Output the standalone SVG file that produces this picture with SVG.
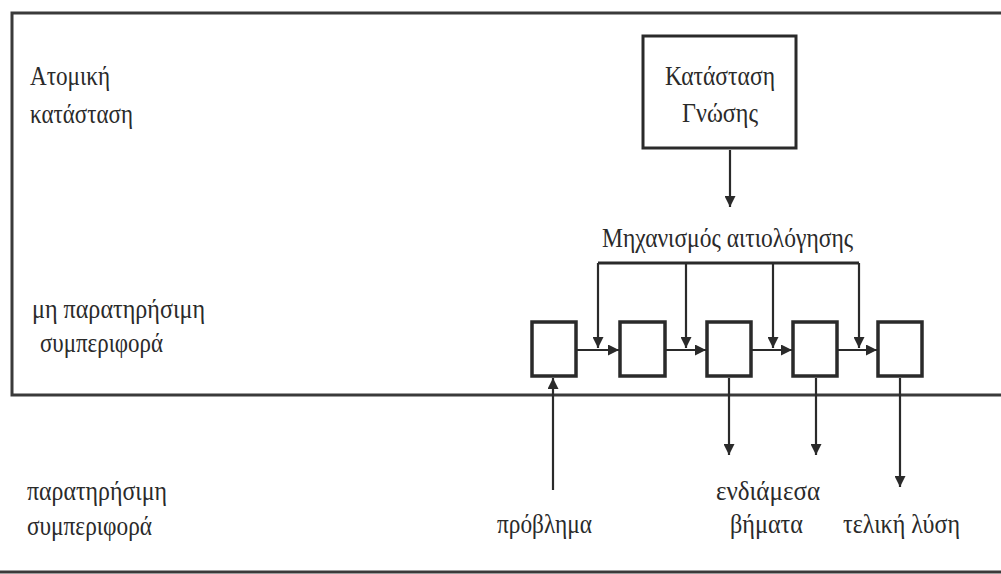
<svg xmlns="http://www.w3.org/2000/svg" width="1001" height="574" viewBox="0 0 1001 574">
<defs>
<marker id="ah" viewBox="0 0 10 10" refX="10" refY="5" markerWidth="11" markerHeight="11" markerUnits="userSpaceOnUse" orient="auto">
<path d="M0,0 L10,5 L0,10 Z" fill="#2a2a2a"/>
</marker>
</defs>
<style>
.t{font-family:"Liberation Serif","DejaVu Serif",serif;font-size:27px;fill:#2a2a2a}
.m{text-anchor:middle}
.frame{fill:none;stroke:#3a3a3a;stroke-width:3}
.box{fill:#fff;stroke:#2a2a2a;stroke-width:3.5}
.c{fill:none;stroke:#2a2a2a;stroke-width:2.2}
.a{marker-end:url(#ah)}
</style>
<rect width="1001" height="574" fill="#fff"/>
<g id="frame">
<path class="frame" d="M1001,13 H12 V395 H1001"/>
<line class="frame" x1="0" y1="572" x2="1001" y2="572"/>
</g>
<g id="labels">
<text class="t" x="30" y="85" textLength="80" lengthAdjust="spacingAndGlyphs">Ατομική</text>
<text class="t" x="30" y="123" textLength="103" lengthAdjust="spacingAndGlyphs">κατάσταση</text>
<text class="t" x="32" y="318" textLength="173" lengthAdjust="spacingAndGlyphs">μη παρατηρήσιμη</text>
<text class="t" x="40" y="352" textLength="123" lengthAdjust="spacingAndGlyphs">συμπεριφορά</text>
<text class="t" x="27" y="500" textLength="140" lengthAdjust="spacingAndGlyphs">παρατηρήσιμη</text>
<text class="t" x="27" y="535" textLength="125" lengthAdjust="spacingAndGlyphs">συμπεριφορά</text>
<text class="t" x="602" y="247" textLength="251" lengthAdjust="spacingAndGlyphs">Μηχανισμός αιτιολόγησης</text>
<text class="t" x="497" y="533" textLength="95" lengthAdjust="spacingAndGlyphs">πρόβλημα</text>
<text class="t" x="716" y="500" textLength="104" lengthAdjust="spacingAndGlyphs">ενδιάμεσα</text>
<text class="t" x="730" y="533" textLength="73" lengthAdjust="spacingAndGlyphs">βήματα</text>
<text class="t" x="843" y="533" textLength="117" lengthAdjust="spacingAndGlyphs">τελική λύση</text>
</g>
<g id="knowledge">
<rect class="box" x="643" y="36" width="153" height="112" style="stroke-width:3"/>
<text class="t" x="665" y="85" textLength="110" lengthAdjust="spacingAndGlyphs">Κατάσταση</text>
<text class="t" x="682" y="122" textLength="76" lengthAdjust="spacingAndGlyphs">Γνώσης</text>
</g>
<g id="step1"><rect class="box" x="532" y="322" width="44" height="54"/></g>
<g id="step2"><rect class="box" x="620" y="322" width="45" height="54"/></g>
<g id="step3"><rect class="box" x="707" y="322" width="44" height="54"/></g>
<g id="step4"><rect class="box" x="793" y="322" width="44" height="54"/></g>
<g id="step5"><rect class="box" x="878" y="322" width="44" height="54"/></g>
<g id="connectors">
<line class="c a" x1="730" y1="150" x2="730" y2="207"/>
<line class="c" x1="598" y1="263" x2="859" y2="263" style="stroke-width:3"/>
<line class="c a" x1="598" y1="263" x2="598" y2="348"/>
<line class="c a" x1="686" y1="263" x2="686" y2="348"/>
<line class="c a" x1="773" y1="263" x2="773" y2="348"/>
<line class="c a" x1="859" y1="263" x2="859" y2="348"/>
<line class="c a" x1="577" y1="350" x2="619" y2="350"/>
<line class="c a" x1="666" y1="350" x2="706" y2="350"/>
<line class="c a" x1="752" y1="350" x2="792" y2="350"/>
<line class="c a" x1="838" y1="350" x2="877" y2="350"/>
<line class="c a" x1="553" y1="490" x2="553" y2="378"/>
<line class="c a" x1="729" y1="378" x2="729" y2="455"/>
<line class="c a" x1="816" y1="378" x2="816" y2="455"/>
<line class="c a" x1="900" y1="378" x2="900" y2="487"/>
</g>
</svg>
